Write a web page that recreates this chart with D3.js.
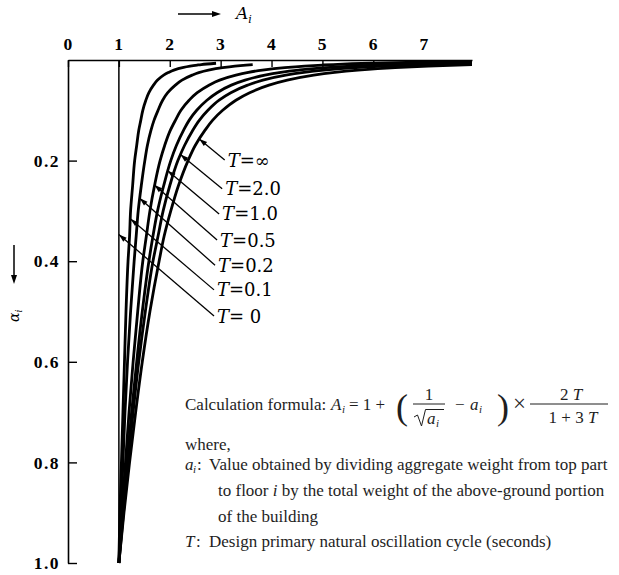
<!DOCTYPE html>
<html><head><meta charset="utf-8">
<script src="https://cdn.jsdelivr.net/npm/d3@7"></script>
<style>html,body{margin:0;padding:0;background:#fff}</style>
</head><body>
<svg id="c" width="619" height="575"></svg>
<script>
// ---- data ----
const alphaLevels = [1.0, 0.9, 0.8, 0.7, 0.6, 0.5, 0.4, 0.35, 0.3, 0.25, 0.2, 0.17, 0.14, 0.12, 0.1, 0.08, 0.065, 0.05, 0.04, 0.03, 0.025, 0.02, 0.015, 0.012, 0.01, 0.009, 0.0065, 0.005, 0.004, 0.0033];
const aiTinf = [1.00,1.10,1.21,1.33,1.46,1.61,1.79,1.89,2.02,2.17,2.36,2.50,2.69,2.84,3.04,3.30,3.57,3.95,4.31,4.83,5.20,5.70,6.43,7.08,7.66,8.02];
const aiT20  = [1.00,1.09,1.18,1.28,1.39,1.52,1.67,1.77,1.87,2.00,2.16,2.29,2.45,2.58,2.75,2.97,3.20,3.53,3.83,4.28,4.60,5.03,5.66,6.21,6.71,7.02,8.08];
const aiT10  = [1.00,1.08,1.16,1.25,1.35,1.46,1.59,1.67,1.76,1.88,2.02,2.13,2.27,2.38,2.53,2.73,2.93,3.21,3.48,3.87,4.15,4.53,5.07,5.56,6.00,6.27,7.20,8.07];
const aiT05  = [1.00,1.06,1.13,1.20,1.28,1.37,1.47,1.54,1.61,1.70,1.81,1.90,2.01,2.11,2.22,2.38,2.54,2.77,2.98,3.30,3.52,3.82,4.26,4.65,5.00,5.21,5.96,6.65,7.32,7.96];
const aiT02  = [1.00,1.04,1.08,1.12,1.17,1.23,1.30,1.34,1.38,1.44,1.51,1.56,1.63,1.69,1.77,1.86,1.96,2.11,2.24,2.44,2.57,2.76,3.04,3.28,3.50,3.63];
const aiT01  = [1.00,1.02,1.05,1.08,1.11,1.14,1.18,1.21,1.23,1.27,1.31,1.35,1.39,1.43,1.47,1.53,1.59,1.68,1.76,1.88,1.97,2.08,2.25,2.40,2.54,2.62,2.91];
const alphaT0 = [1.0, 0.0];
const aiT0    = [1.00, 1.00];

const labelValues = ["∞", "2.0", "1.0", "0.5", "0.2", "0.1", " 0"];
const tipAlpha   = [0.157, 0.188, 0.220, 0.2485, 0.275, 0.316, 0.347];
const tipAi      = [2.58, 2.21, 1.96, 1.70, 1.41, 1.23, 1.00];
const labelAlpha = [0.199, 0.256, 0.306, 0.358, 0.408, 0.457, 0.509];
const labelAi    = [3.08, 3.03, 2.97, 2.93, 2.89, 2.87, 2.87];

const xTicks = [0,1,2,3,4,5,6,7];
const yTicks = [0.2,0.4,0.6,0.8,1.0];

// ---- drawing ----
const svg = d3.select("#c");
svg.append("rect").attr("width",619).attr("height",575).attr("fill","#fff");
const x = d3.scaleLinear().domain([0,7.94]).range([68,472]);
const y = d3.scaleLinear().domain([0,1]).range([60,563]);

svg.append("defs").append("clipPath").attr("id","clip")
  .append("rect").attr("x",68).attr("y",56).attr("width",404).attr("height",510);

const line = d3.line().x(d=>x(d[1])).y(d=>y(d[0])).curve(d3.curveMonotoneY);
const mk = arr => arr.map((v,i)=>[alphaLevels[i], v]).reverse();
const series = [aiTinf, aiT20, aiT10, aiT05, aiT02, aiT01];

const gC = svg.append("g").attr("clip-path","url(#clip)");
series.forEach(s=>{
  gC.append("path").attr("d", line(mk(s))).attr("fill","none")
    .attr("stroke","#000").attr("stroke-width",2.8).attr("stroke-linejoin","round");
});
gC.append("path").attr("d", d3.line().x(d=>x(d[1])).y(d=>y(d[0]))(alphaT0.map((a,i)=>[a,aiT0[i]])))
  .attr("stroke","#000").attr("stroke-width",1.5).attr("fill","none");

// axes
const fontAx = "'Liberation Serif', serif";
const gx = svg.append("g").attr("transform","translate(0,60)")
  .call(d3.axisTop(x).tickValues(xTicks).tickSize(-7).tickSizeOuter(0).tickPadding(10).tickFormat(d3.format("d")));
const gy = svg.append("g").attr("transform","translate(68,0)")
  .call(d3.axisLeft(y).tickValues(yTicks).tickSize(-9).tickSizeOuter(0).tickPadding(8).tickFormat(d3.format(".1f")));
[gx,gy].forEach(g=>{
  g.select(".domain").attr("stroke","#000").attr("stroke-width",1.6);
  g.selectAll(".tick line").attr("stroke","#000").attr("stroke-width",1.4);
  g.selectAll(".tick text").attr("fill","#000").style("font-family",fontAx)
   .style("font-size","17.5px").style("font-weight","bold").style("letter-spacing","1.5px");
});

// axis titles
function arrowHead(g, x1, y1, x2, y2, L, W){
  const a = Math.atan2(y2-y1, x2-x1);
  const bx = x2 - L*Math.cos(a), by = y2 - L*Math.sin(a);
  const px = -Math.sin(a)*W, py = Math.cos(a)*W;
  g.append("path").attr("d",`M${x2},${y2}L${bx+px},${by+py}L${bx-px},${by-py}Z`).attr("fill","#000");
}
svg.append("line").attr("x1",178).attr("y1",14).attr("x2",214).attr("y2",14).attr("stroke","#000").attr("stroke-width",1.5);
arrowHead(svg,178,14,221,14,9,3);
const tA = svg.append("text").attr("x",236).attr("y",19).style("font-family","'DejaVu Serif', serif").style("font-size","17px").attr("fill","#000");
tA.append("tspan").style("font-style","italic").text("A");
tA.append("tspan").style("font-style","italic").style("font-size","11px").attr("dy",4).text("i");

svg.append("line").attr("x1",14).attr("y1",245).attr("x2",14).attr("y2",276).attr("stroke","#000").attr("stroke-width",1.5);
arrowHead(svg,14,245,14,284,9,3);
const tAl = svg.append("text").attr("transform","translate(19,322) rotate(-90)")
  .style("font-family","'DejaVu Serif', serif").style("font-size","14px").attr("fill","#000");
tAl.append("tspan").style("font-style","italic").text("α");
tAl.append("tspan").style("font-style","italic").style("font-size","9px").attr("dy",3).text("i");

// leader lines and labels
const gL = svg.append("g");
labelValues.forEach((v,i)=>{
  const tx = x(tipAi[i]), ty = y(tipAlpha[i]);
  const ex = x(labelAi[i]), ey = y(labelAlpha[i]);
  gL.append("line").attr("x1",tx).attr("y1",ty).attr("x2",ex).attr("y2",ey)
    .attr("stroke","#000").attr("stroke-width",1.3);
  arrowHead(gL, ex, ey, tx, ty, 8, 2.6);
  const t = gL.append("text").attr("x",ex+3).attr("y",ey).attr("dy","0.36em")
    .style("font-family","'DejaVu Serif', serif").style("font-size","18px").attr("fill","#000");
  t.append("tspan").style("font-style","italic").text("T");
  t.append("tspan").attr("xml:space","preserve").text("=" + v);
});

// formula and notes
const fT = "'Liberation Serif', 'Times New Roman', serif";
const col = "#1e1e1e";
function txt(xp, yp, s, opts={}){
  const t = svg.append("text").attr("x",xp).attr("y",yp).text(s)
    .style("font-family",fT).style("font-size",(opts.size||17)+"px").attr("fill",col);
  if(opts.italic) t.style("font-style","italic");
  if(opts.anchor) t.attr("text-anchor",opts.anchor);
  return t;
}
txt(185,410,"Calculation formula:");
txt(331,410,"A",{italic:true});
txt(342,413,"i",{italic:true,size:11});
txt(349,410,"= 1 +");
txt(396,419,"(",{size:36});
txt(429,400,"1",{anchor:"middle"});
svg.append("line").attr("x1",413).attr("x2",445).attr("y1",404).attr("y2",404).attr("stroke",col).attr("stroke-width",1);
svg.append("path").attr("d","M414,417L417.5,415L421.5,426L425.5,409.5H444").attr("fill","none").attr("stroke",col).attr("stroke-width",1);
txt(427,424,"a",{italic:true});
txt(436,427,"i",{italic:true,size:11});
txt(455,410,"−");
txt(470,410,"a",{italic:true});
txt(479,413,"i",{italic:true,size:11});
txt(497,419,")",{size:36});
txt(513,411,"×",{size:23});
svg.append("line").attr("x1",530).attr("x2",608).attr("y1",404).attr("y2",404).attr("stroke",col).attr("stroke-width",1);
const n2 = txt(571,400,"",{anchor:"middle"});
n2.append("tspan").text("2 ");
n2.append("tspan").style("font-style","italic").text("T");
const d2 = txt(573,423,"",{anchor:"middle"});
d2.append("tspan").text("1 + 3 ");
d2.append("tspan").style("font-style","italic").text("T");

txt(185,450,"where,");
txt(185,470,"a",{italic:true});
txt(193,473,"i",{italic:true,size:11});
txt(197,470,":");
txt(209,470,"Value obtained by dividing aggregate weight from top part");
const l2 = txt(218,496,"");
l2.append("tspan").text("to floor ");
l2.append("tspan").style("font-style","italic").text("i");
l2.append("tspan").text(" by the total weight of the above-ground portion");
txt(218,522,"of the building");
txt(185,547,"T",{italic:true});
txt(196,547,":");
txt(209,547,"Design primary natural oscillation cycle (seconds)");
</script>
</body></html>
